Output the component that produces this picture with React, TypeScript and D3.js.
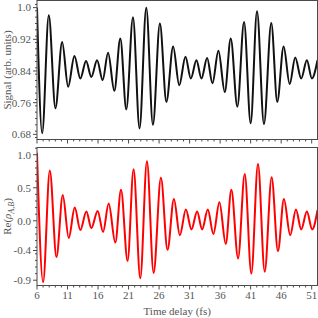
import React from 'react';
import * as d3 from 'd3';

// extrema (time in fs, value)
const sigT = [6, 6.85, 7.93, 9.02, 10.12, 11.1, 12.13, 13.1, 14.04, 14.9, 15.84, 16.76, 17.64, 18.67, 19.65, 20.63, 21.72, 22.8, 23.9, 24.99, 26.13, 27.2, 28.3, 29.3, 30.32, 31.2, 32.12, 32.94, 33.87, 34.74, 35.72, 36.76, 37.74, 38.82, 39.92, 41.0, 42.04, 43.18, 44.38, 45.36, 46.4, 47.39, 48.3, 49.28, 50.21, 51.03, 51.95];
const sigV = [1.0, 0.683, 0.981, 0.746, 0.913, 0.8, 0.878, 0.821, 0.865, 0.825, 0.867, 0.817, 0.886, 0.79, 0.922, 0.743, 0.976, 0.695, 1.0, 0.704, 0.96, 0.762, 0.902, 0.804, 0.876, 0.821, 0.867, 0.821, 0.873, 0.809, 0.891, 0.787, 0.922, 0.75, 0.964, 0.708, 0.991, 0.706, 0.961, 0.762, 0.902, 0.807, 0.874, 0.821, 0.867, 0.821, 0.867];

const reT = [6, 7.0, 8.1, 9.19, 10.22, 11.2, 12.18, 13.1, 14.09, 14.9, 15.94, 16.82, 17.74, 18.83, 19.76, 20.84, 21.82, 22.92, 24.01, 25.1, 26.3, 27.38, 28.43, 29.4, 30.39, 31.3, 32.23, 33.05, 33.98, 34.9, 35.88, 36.92, 37.84, 38.94, 40.03, 41.11, 42.2, 43.3, 44.44, 45.47, 46.45, 47.48, 48.42, 49.28, 50.21, 51.08, 51.95];
const reV = [1.03, -0.93, 0.76, -0.55, 0.39, -0.26, 0.2, -0.14, 0.14, -0.11, 0.15, -0.17, 0.26, -0.33, 0.47, -0.61, 0.78, -0.87, 0.9, -0.79, 0.65, -0.44, 0.33, -0.22, 0.17, -0.13, 0.14, -0.13, 0.17, -0.2, 0.28, -0.35, 0.47, -0.57, 0.71, -0.8, 0.86, -0.77, 0.66, -0.46, 0.33, -0.22, 0.17, -0.13, 0.14, -0.13, 0.16];

const xTicks = [6, 11, 16, 21, 26, 31, 36, 41, 46, 51];
const topTicks = [0.68, 0.76, 0.84, 0.92, 1.0];
const topLabels = ['0.68', '0.76', '0.84', '0.92', '1.0'];
const botTicks = [1.0, 0.5, 0.0, -0.45, -0.9];
const botLabels = ['1.0', '0.5', '0.0', '-0.4', '-0.9'];

const W = 318;
const H = 318;
const left = 37;
const right = 317.5;
const axisCol = '#4a4a4a';
const textCol = '#555';
const font = '"Liberation Serif", "Times New Roman", serif';

export default function App() {
  const x = d3.scaleLinear().domain([6, 51.95]).range([left, right]);
  const yTop = d3.scaleLinear().domain([0.667, 1.018]).range([139.5, 0.5]);
  const yBot = d3.scaleLinear().domain([-0.98, 1.11]).range([285.5, 147.5]);

  const sig = sigT.map((t, i) => [t, sigV[i]] as [number, number]);
  const re = reT.map((t, i) => [t, reV[i]] as [number, number]);

  const lineTop = d3.line<[number, number]>().x((d) => x(d[0])).y((d) => yTop(d[1])).curve(d3.curveMonotoneX);
  const lineBot = d3.line<[number, number]>().x((d) => x(d[0])).y((d) => yBot(d[1])).curve(d3.curveMonotoneX);

  const xMinor = d3.range(7, 52, 1).filter((t) => (t - 6) % 5 !== 0);
  const topMinor = d3.range(0.672, 1.018, 0.016).filter((v) => !topTicks.some((m) => Math.abs(m - v) < 1e-6));
  const botMinor = d3.range(-0.9, 1.11, 0.1).filter((v) => !botTicks.some((m) => Math.abs(m - v) < 0.04));

  const panel = (y: d3.ScaleLinear<number, number>, major: number[], minor: number[], labels: string[], showX: boolean) => {
    const [y0, y1] = y.range();
    return (
      <g>
        <rect x={left} y={y1} width={right - left} height={y0 - y1} fill="none" stroke={axisCol} strokeWidth={1} />
        {xTicks.map((t) => (
          <line key={'xM' + t} x1={x(t)} x2={x(t)} y1={y0} y2={y0 + 4} stroke={axisCol} />
        ))}
        {xMinor.map((t) => (
          <line key={'xm' + t} x1={x(t)} x2={x(t)} y1={y0} y2={y0 + 2} stroke={axisCol} />
        ))}
        {major.map((v, i) => (
          <g key={'yM' + i}>
            <line x1={left - 4} x2={left} y1={y(v)} y2={y(v)} stroke={axisCol} />
            <text x={left - 6} y={y(v)} dy="0.35em" textAnchor="end" fontSize={11} fill={textCol} fontFamily={font}>
              {labels[i]}
            </text>
          </g>
        ))}
        {minor.map((v, i) => (
          <line key={'ym' + i} x1={left - 2} x2={left} y1={y(v)} y2={y(v)} stroke={axisCol} />
        ))}
        {showX &&
          xTicks.map((t) => (
            <text key={'xl' + t} x={x(t)} y={y0 + 13.5} textAnchor="middle" fontSize={11} fill={textCol} fontFamily={font}>
              {t}
            </text>
          ))}
      </g>
    );
  };

  return (
    <svg width={W} height={H} style={{ position: 'absolute', left: 0, top: 0, background: '#fff' }}>
      <defs>
        <clipPath id="cTop">
          <rect x={left} y={0.5} width={right - left} height={139} />
        </clipPath>
        <clipPath id="cBot">
          <rect x={left} y={147.5} width={right - left} height={138} />
        </clipPath>
      </defs>
      <path d={lineTop(sig) || ''} fill="none" stroke="#111" strokeWidth={2} clipPath="url(#cTop)" />
      <path d={lineBot(re) || ''} fill="none" stroke="#f00" strokeWidth={2} clipPath="url(#cBot)" />
      {panel(yTop, topTicks, topMinor, topLabels, false)}
      {panel(yBot, botTicks, botMinor, botLabels, true)}
      <text x={(left + right) / 2} y={315} textAnchor="middle" fontSize={11} fill={textCol} fontFamily={font}>
        Time delay (fs)
      </text>
      <text transform={`translate(11,${(0.5 + 139.5) / 2}) rotate(-90)`} textAnchor="middle" fontSize={11} fill={textCol} fontFamily={font}>
        Signal (arb. units)
      </text>
      <text transform={`translate(11,${(147.5 + 285.5) / 2}) rotate(-90)`} textAnchor="middle" fontSize={11} fill={textCol} fontFamily={font}>
        Re(<tspan fontStyle="italic">ρ</tspan>
        <tspan fontStyle="italic" fontSize={8} dy={2.5}>A,B</tspan>
        <tspan dy={-2.5}>)</tspan>
      </text>
    </svg>
  );
}
